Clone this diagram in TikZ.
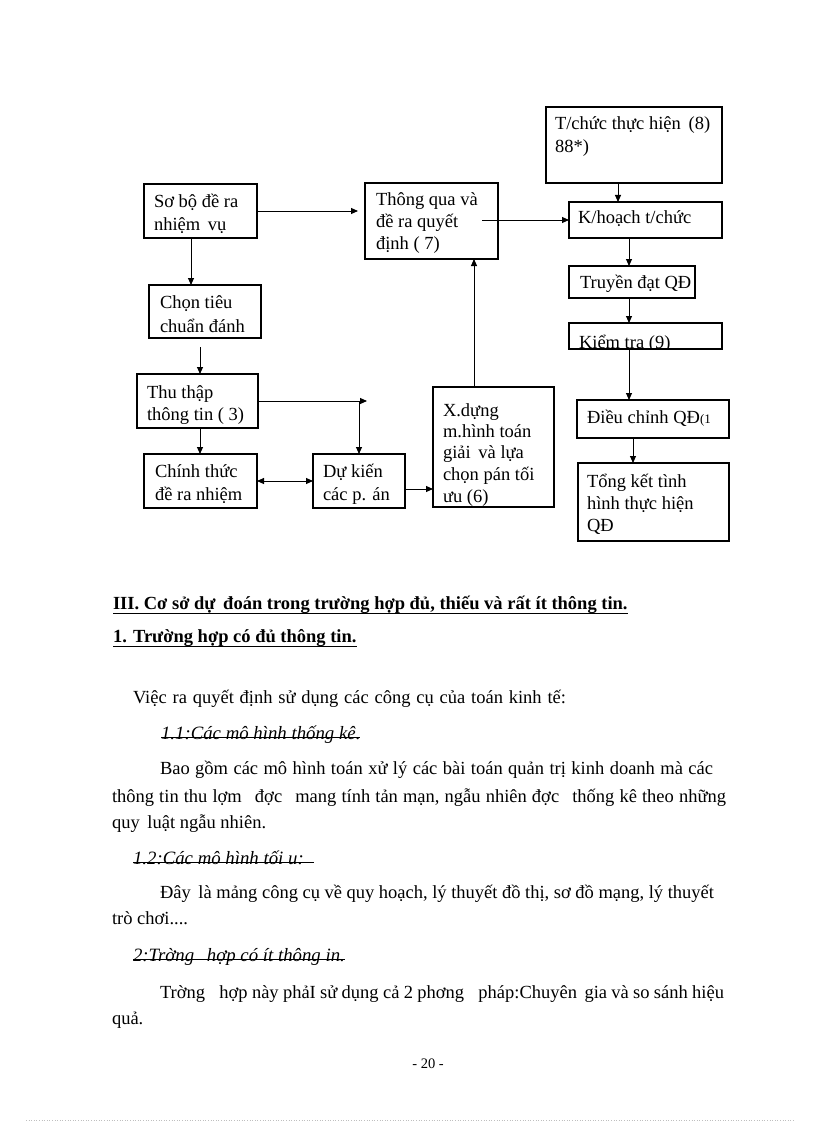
\documentclass[tikz,border=0pt]{standalone}
\usepackage{fontspec}
\setmainfont{Liberation Serif}
\usetikzlibrary{arrows.meta}
\begin{document}
\begin{tikzpicture}[x=1pt,y=-1pt,
  bx/.style={draw, line width=1.1pt, anchor=north west, inner sep=0, outer sep=0},
  tx/.style={font=\fontsize{18.5}{22}\selectfont, anchor=base west, inner sep=0, outer sep=0},
  body/.style={font=\fontsize{18.5}{22}\selectfont, anchor=base west, inner sep=0, outer sep=0},
  ital/.style={font=\fontsize{18.8}{22}\selectfont\itshape, anchor=base west, inner sep=0, outer sep=0},
  ul/.style={line width=0.9pt},
  arr/.style={-{Triangle[length=7pt,width=6pt]}, line width=0.9pt},
  darr/.style={{Triangle[length=7pt,width=6pt]}-{Triangle[length=7pt,width=6pt]}, line width=0.9pt}]
\fill[white] (0,0) rectangle (816,1123);
\useasboundingbox (0,0) rectangle (816,1123);

% boxes
\node[bx, minimum width=113pt, minimum height=54pt] (b1) at (144,184) {};
\node[bx, minimum width=133pt, minimum height=76pt] (b2) at (365,183) {};
\node[bx, minimum width=176pt, minimum height=76pt] (b3) at (546,107) {};
\node[bx, minimum width=153pt, minimum height=36pt] (b4) at (569,202) {};
\node[bx, minimum width=126pt, minimum height=32pt] (b5) at (569,266) {};
\node[bx, minimum width=153pt, minimum height=26pt] (b6) at (569,323) {};
\node[bx, minimum width=152pt, minimum height=38pt] (b7) at (577,400) {};
\node[bx, minimum width=151pt, minimum height=78pt] (b8) at (578,463) {};
\node[bx, minimum width=112pt, minimum height=53pt] (b9) at (149,285) {};
\node[bx, minimum width=121pt, minimum height=54pt] (b10) at (137,374) {};
\node[bx, minimum width=113pt, minimum height=54pt] (b11) at (144,454) {};
\node[bx, minimum width=92pt, minimum height=54pt] (b12) at (313,454) {};
\node[bx, minimum width=121pt, minimum height=120pt] (b13) at (433,387) {};

% box texts
\node[tx] (t1a) at (154,208) {Sơ bộ đề ra};
\node[tx] (t1b) at (154,230) {nhiệm\, vụ};
\node[tx] (t2a) at (376,206) {Thông qua và};
\node[tx] (t2b) at (376,228) {đề ra quyết};
\node[tx] (t2c) at (376,250) {định ( 7)};
\node[tx] (t3a) at (555,130) {T/chức thực hiện\, (8)};
\node[tx] (t3b) at (555,153) {88*)};
\node[tx] (t4) at (578,224) {K/hoạch t/chức};
\node[tx] (t5) at (580,288) {Truyền đạt QĐ};
\begin{scope}
\clip (b6.north west) rectangle (b6.south east);
\node[tx] (t6) at (579,348) {Kiểm tra (9)};
\end{scope}
\node[tx] (t7) at (587,423) {Điều chỉnh QĐ{\fontsize{13}{15}\selectfont(1}};
\node[tx] (t8a) at (587,487) {Tổng kết tình};
\node[tx] (t8b) at (587,509) {hình thực hiện};
\node[tx] (t8c) at (587,531) {QĐ};
\node[tx] (t9a) at (160,308) {Chọn tiêu};
\node[tx] (t9b) at (160,332) {chuẩn đánh};
\node[tx] (t10a) at (147,398) {Thu thập};
\node[tx] (t10b) at (147,420) {thông tin ( 3)};
\node[tx] (t11a) at (155,477) {Chính thức};
\node[tx] (t11b) at (155,500) {đề ra nhiệm};
\node[tx] (t12a) at (323,477) {Dự kiến};
\node[tx] (t12b) at (323,500) {các p. án};
\node[tx] (t13a) at (443,416) {X.dựng};
\node[tx] (t13b) at (443,437) {m.hình toán};
\node[tx] (t13c) at (443,458) {giải\, và lựa};
\node[tx] (t13d) at (443,480) {chọn pán tối};
\node[tx] (t13e) at (443,502) {ưu (6)};

% helper coordinates
\coordinate (c1) at (200,347);
\coordinate (c2) at (367,401);
\coordinate (c3) at (359,401);
\coordinate (c4) at (482,220);
\coordinate (c5) at (629,250);
\coordinate (c6) at (633,450);

% connectors
\draw[arr] (b1.east) -- ([xshift=-7pt]b1.east -| b2.west);
\draw[arr] ([xshift=-9.5pt]b1.south) -- ([xshift=-9.5pt]b1.south |- b9.north);
\draw[arr] (c1) -- (c1 |- b10.north);
\draw[arr] (b10.south -| c1) -- (b11.north -| c1);
\draw[arr] (b10.east) -- (c2);
\draw[arr] (c3) -- (c3 |- b12.north);
\draw[darr] (b11.east) -- (b12.west);
\draw[arr] ([yshift=-8pt]b12.east) -- ([yshift=-8pt]b12.east -| b13.west);
\draw[arr] ([xshift=-19.5pt]b13.north) -- ([xshift=-19.5pt]b13.north |- b2.south);
\draw[arr] ([xshift=-16pt]b3.south) -- ([xshift=-16pt]b3.south |- b4.north);
\draw[arr] (c4) -- (b4.west);
\draw[arr] (b4.south -| c5) -- (b5.north -| c5);
\draw[arr] (b5.south -| c5) -- (b6.north -| c5);
\draw[arr] (b6.south -| c5) -- (b7.north -| c5);
\draw[arr] (b7.south -| c6) -- (b8.north -| c6);

% text body
\node[body, font=\fontsize{18.5}{22}\selectfont\bfseries] (h1) at (113,609) {III. Cơ sở dự\, đoán trong trường hợp đủ, thiếu và rất ít thông tin.};
\draw[ul] ([yshift=-4pt]h1.base west) -- ([yshift=-4pt]h1.base east);
\node[body, font=\fontsize{18.5}{22}\selectfont\bfseries] (h2) at (113,642) {1. Trường hợp có đủ thông tin.};
\draw[ul] ([yshift=-4pt]h2.base west) -- ([yshift=-4pt]h2.base east);
\node[body] (p1) at (133,703) {\makebox[433pt][s]{Việc ra quyết định sử dụng các công cụ của toán kinh tế:}};
\node[ital] (s1) at (161,739) {1.1:Các mô hình thống kê.};
\draw[ul] ([yshift=1.5pt]s1.base west) -- ([yshift=1.5pt]s1.base east);
\node[body] (p2) at (160,774) {\makebox[553pt][s]{Bao gồm các mô hình toán xử lý các bài toán quản trị kinh doanh mà các}};
\node[body] (p3) at (112,802) {\makebox[614pt][s]{thông tin thu lợm\hspace{8pt} đợc\hspace{8pt} mang tính tản mạn, ngẫu nhiên đợc\hspace{8pt} thống kê theo những}};
\node[body] (p4) at (112,828) {quy\, luật ngẫu nhiên.};
\node[ital] (s2) at (133,864) {1.2:Các mô hình tối u:};
\draw[ul] ([yshift=1.5pt]s2.base west) -- ([yshift=1.5pt,xshift=10pt]s2.base east);
\node[body] (p5) at (160,898) {\makebox[554pt][s]{Đây\, là mảng công cụ về quy hoạch, lý thuyết đồ thị, sơ đồ mạng, lý thuyết}};
\node[body] (p6) at (112,924) {trò chơi....};
\node[ital] (s3) at (133,961) {2:Trờng\hspace{8pt} hợp có ít thông in.};
\draw[ul] ([yshift=1.5pt]s3.base west) -- ([yshift=1.5pt]s3.base east);
\node[body] (p7) at (160,998) {\makebox[564pt][s]{Trờng\hspace{10pt} hợp này phảI sử dụng cả 2 phơng\hspace{10pt} pháp:Chuyên\, gia và so sánh hiệu}};
\node[body] (p8) at (112,1024) {quả.};
\node[font=\fontsize{14.5}{16}\selectfont, anchor=base, inner sep=0] (pg) at (428,1068) {- 20 -};
\draw[gray!50, dotted, line width=0.6pt] (26,1120) -- (795,1120);
\end{tikzpicture}
\end{document}
